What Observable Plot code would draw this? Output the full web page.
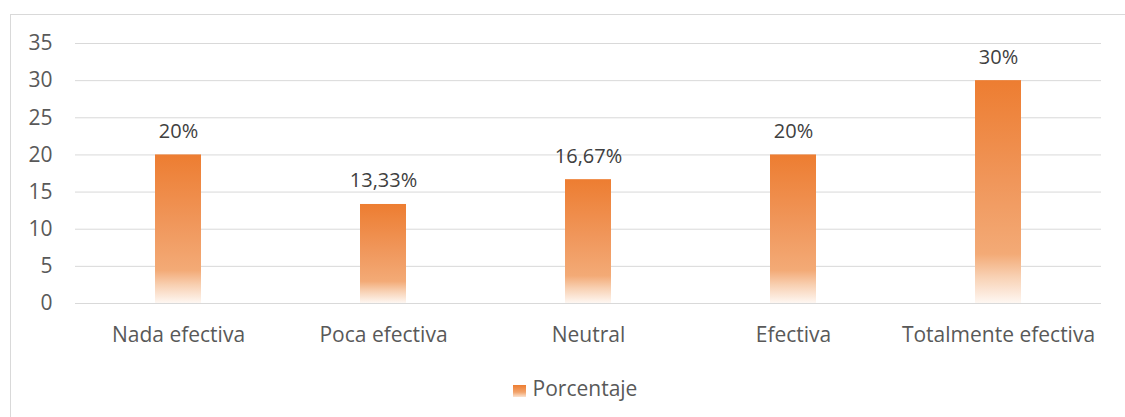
<!DOCTYPE html>
<html>
<head>
<meta charset="utf-8">
<script src="https://cdn.jsdelivr.net/npm/d3@7"></script>
<script src="https://cdn.jsdelivr.net/npm/@observablehq/plot@0.6"></script>
<style>
  html, body { margin: 0; padding: 0; background: #fff; overflow: hidden; }
  body { width: 1125px; height: 417px; position: relative; font-family: "Open Sans", sans-serif; }
  #frame { position: absolute; left: 10px; top: 14px; width: 1130px; height: 420px; border: 1px solid #D9D9D9; box-sizing: border-box; }
  #chart { position: absolute; left: 0; top: 0; }
  #legend { position: absolute; left: 0; width: 1150px; top: 374px; text-align: center; color: #595959; font-size: 21px; line-height: 28px; }
  #legend .sw { display: inline-block; width: 13px; height: 12px; margin-right: 7px; vertical-align: -1px;
    background: linear-gradient(to bottom, #ED7D31 0%, #F2A46C 60%, #FBE3D0 100%); }
</style>
</head>
<body>
<div id="frame"></div>
<div id="chart"></div>
<div id="legend"><span class="sw"></span>Porcentaje</div>
<script>
const categories = ["Nada efectiva", "Poca efectiva", "Neutral", "Efectiva", "Totalmente efectiva"];
const values = [20, 13.33, 16.67, 20, 30];
const valueLabels = ["20%", "13,33%", "16,67%", "20%", "30%"];
const yTicks = [0, 5, 10, 15, 20, 25, 30, 35];
const seriesName = "Porcentaje";

const data = categories.map((c, i) => ({category: c, value: values[i], label: valueLabels[i]}));

const plot = Plot.plot({
  width: 1125,
  height: 360,
  marginLeft: 75,
  marginRight: 24,
  marginTop: 43,
  marginBottom: 57,
  style: {color: "#595959", fontFamily: "'Open Sans', sans-serif", fontSize: "21px", background: "transparent"},
  x: {domain: categories, paddingInner: 0.776, paddingOuter: 0.388, label: null},
  y: {domain: [0, 35], label: null},
  marks: [
    Plot.gridY(yTicks, {stroke: "#D9D9D9", strokeOpacity: 1, strokeWidth: 1}),
    Plot.axisY(yTicks, {tickSize: 0, tickPadding: 23, fontSize: 21, label: null}),
    Plot.axisX({tickSize: 0, tickPadding: 24, fontSize: 21, label: null}),
    Plot.barY(data, {x: "category", y: "value", fill: "url(#barGrad)"}),
    Plot.text(data, {x: "category", y: "value", text: "label", dy: -23.4, fontSize: 20, fill: "#404040"})
  ]
});

const ns = "http://www.w3.org/2000/svg";
const defs = document.createElementNS(ns, "defs");
const grad = document.createElementNS(ns, "linearGradient");
grad.setAttribute("id", "barGrad");
grad.setAttribute("x1", "0"); grad.setAttribute("y1", "0");
grad.setAttribute("x2", "0"); grad.setAttribute("y2", "1");
[["0", "#ED7D31"], ["0.45", "#F0965A"], ["0.78", "#F3AA76"], ["0.88", "#F8D0B2"], ["1", "#FEF7F2"]].forEach(([o, c]) => {
  const s = document.createElementNS(ns, "stop");
  s.setAttribute("offset", o);
  s.setAttribute("stop-color", c);
  grad.appendChild(s);
});
defs.appendChild(grad);
plot.insertBefore(defs, plot.firstChild);

document.getElementById("chart").appendChild(plot);
</script>
</body>
</html>
